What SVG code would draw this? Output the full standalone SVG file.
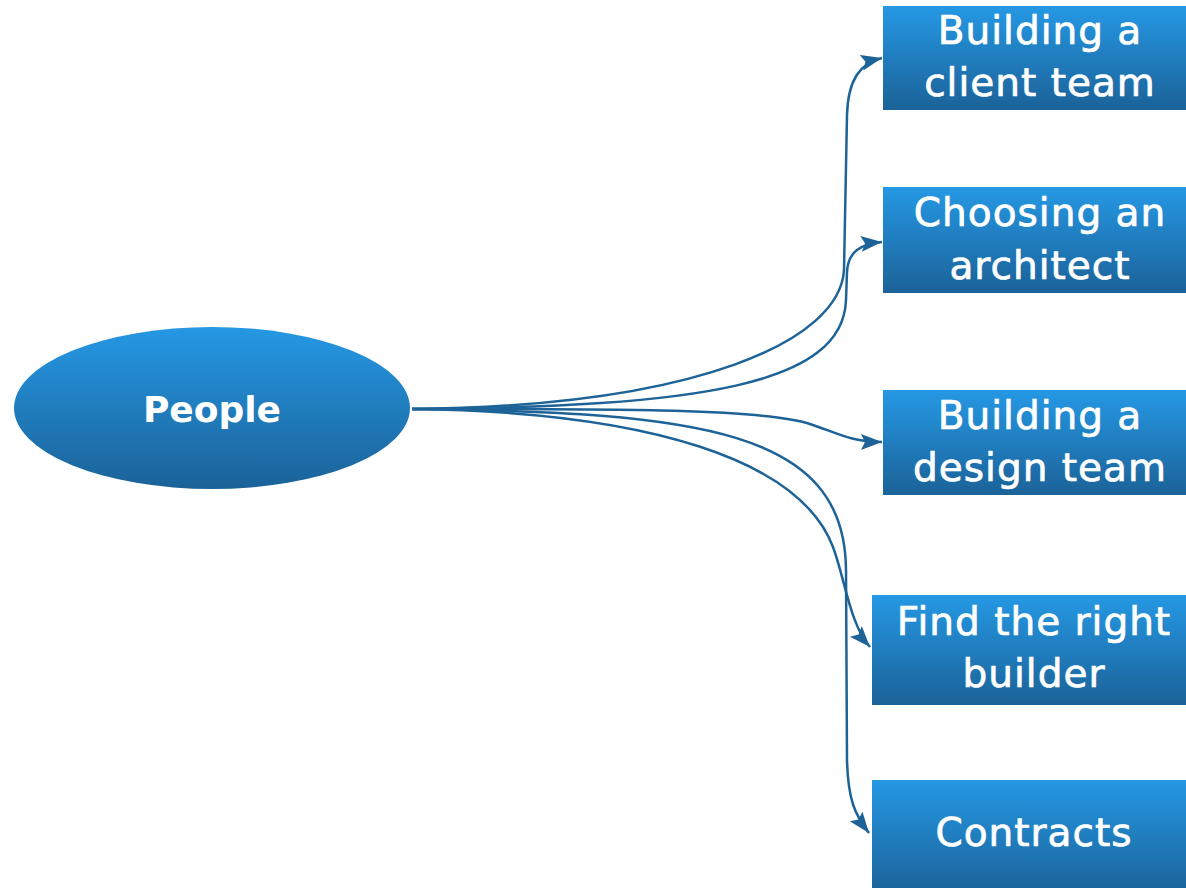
<svg xmlns="http://www.w3.org/2000/svg" width="1186" height="888" viewBox="0 0 1186 888">
<defs>
<linearGradient id="g" x1="0" y1="0" x2="0" y2="1">
<stop offset="0" stop-color="#2598E4"/>
<stop offset="1" stop-color="#1B6298"/>
</linearGradient>
<marker id="arr" markerUnits="userSpaceOnUse" markerWidth="24" markerHeight="18" refX="21" refY="8" orient="auto">
<path d="M0,0 L21,8 L0,16 L4,8 Z" fill="#1D6397"/>
</marker>
<style>
.box{fill:url(#g);}
.t{font-family:"DejaVu Sans",Verdana,sans-serif;font-size:39px;fill:#fff;stroke:#fff;stroke-width:0.7;text-anchor:middle;letter-spacing:1px;}
.c{fill:none;stroke:#1D6397;stroke-width:2.5;marker-end:url(#arr);}
</style>
</defs>
<rect width="1186" height="888" fill="#fff"/>
<g id="connectors">
<path class="c" d="M412,409 C700,406 840,340 844,270 L847,115 C848,80 860,63 882,58"/>
<path class="c" d="M412,409 C700,407 843,385 846,300 L847,272 C848,252 860,244 882,242"/>
<path class="c" d="M412,409 C600,409 760,408 810,424 C835,432 850,442 882,442"/>
<path class="c" d="M412,409 C650,412 800,460 833,547 C845,579 850,625 870,647"/>
<path class="c" d="M412,409 C700,412 845,430 846,570 L847,760 C848,800 855,815 869,833"/>
</g>
<g id="people">
<ellipse cx="212" cy="408" rx="198" ry="81" class="box"/>
<text x="212" y="422" style="font-family:'DejaVu Sans',Verdana,sans-serif;font-weight:bold;font-size:36px;fill:#fff;text-anchor:middle">People</text>
</g>
<g id="client-team">
<rect x="883" y="6" width="310" height="104" class="box"/>
<text class="t" x="1040" y="44">Building a</text>
<text class="t" x="1040" y="96">client team</text>
</g>
<g id="architect">
<rect x="883" y="187" width="310" height="106" class="box"/>
<text class="t" x="1040" y="226">Choosing an</text>
<text class="t" x="1040" y="279">architect</text>
</g>
<g id="design-team">
<rect x="883" y="390" width="310" height="105" class="box"/>
<text class="t" x="1040" y="429">Building a</text>
<text class="t" x="1040" y="481">design team</text>
</g>
<g id="builder">
<rect x="872" y="595" width="320" height="110" class="box"/>
<text class="t" x="1034" y="635">Find the right</text>
<text class="t" x="1034" y="687">builder</text>
</g>
<g id="contracts">
<rect x="872" y="780" width="320" height="115" class="box"/>
<text class="t" x="1034" y="846">Contracts</text>
</g>
</svg>
